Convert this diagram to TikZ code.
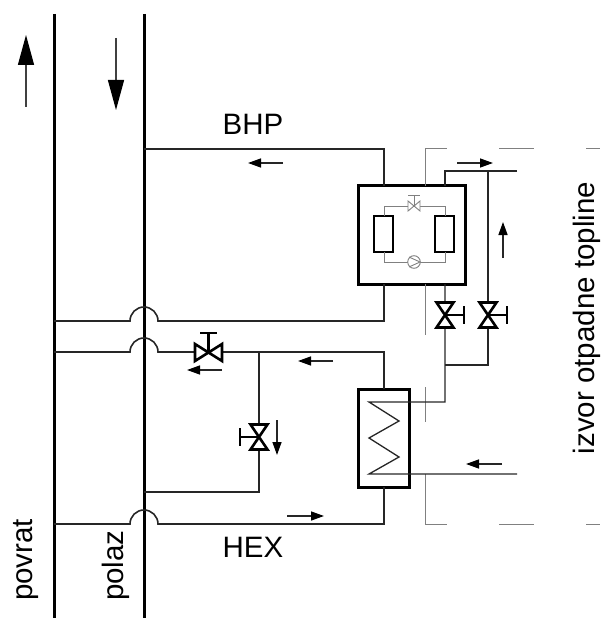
\documentclass[tikz,border=0pt]{standalone}
\usepackage{fontspec}
\setmainfont{Liberation Sans}
\usetikzlibrary{arrows.meta}
\tikzset{
  x=1pt,y=-1pt,
  mainpipe/.style={line width=3pt,black},
  pipe/.style={line width=1.6pt,black!85},
  thinpipe/.style={line width=1.3pt,black!85,line join=miter},
  greyline/.style={line width=1pt,black!50},
  fatbox/.style={line width=3pt,black},
  flow/.style={line width=1.4pt,black!85,-{Triangle[length=13pt,width=9pt,fill=black,color=black]}},
  bigflow/.style={line width=1.4pt,black!75,-{Triangle[length=30pt,width=16pt,fill=black,color=black]}},
  vlv/.style={line width=2.6pt,black,line join=miter},
  lbl/.style={font=\fontsize{29.5}{32}\selectfont,inner sep=0pt}
}
\newcommand{\vvalve}[3]{% x y stemdir(+1 right,-1 left)
  \draw[vlv] (#1-8.5,#2-12.5) -- (#1+8.5,#2-12.5) -- (#1-8.5,#2+12.5) -- (#1+8.5,#2+12.5) -- cycle;
  \draw[vlv] (#1,#2) -- (#1+#3*19,#2);
  \draw[vlv] (#1+#3*19,#2-9) -- (#1+#3*19,#2+9);
}
\begin{document}
\begin{tikzpicture}
\useasboundingbox (0,0) rectangle (600,620);
% mains
\coordinate (mlt) at (54,14); \coordinate (mlb) at (54,618);
\coordinate (mrt) at (144,14); \coordinate (mrb) at (144,618);
\draw[mainpipe] (mlt) -- (mlb);
\draw[mainpipe] (mrt) -- (mrb);
% big arrows
\coordinate (a1) at (26,107); \coordinate (a2) at (26,35);
\coordinate (b1) at (116,38); \coordinate (b2) at (116,110);
\draw[bigflow] (a1) -- (a2);
\draw[bigflow] (b1) -- (b2);
% BHP box
\node[draw,fatbox,minimum width=107pt,minimum height=98pt,inner sep=0pt] (bhp) at (411.5,235) {};
\node[draw,line width=2.6pt,minimum width=19pt,minimum height=36pt,inner sep=0pt] (evap) at (383.5,234) {};
\node[draw,line width=2.6pt,minimum width=19pt,minimum height=36pt,inner sep=0pt] (cond) at (444.5,234) {};
% HEX box
\node[draw,fatbox,minimum width=51pt,minimum height=98pt,inner sep=0pt] (hex) at (383.5,438) {};
% grey refrigerant circuit
\draw[greyline,line width=.9pt] (384,216) -- (384,206) -- (445,206) -- (445,216);
\draw[greyline,line width=.9pt] (384,252) -- (384,262) -- (445,262) -- (445,252);
\draw[greyline,line width=.9pt,fill=white] (408,201) -- (420,211) -- (420,201) -- (408,211) -- cycle;
\draw[greyline,line width=.9pt] (414,206) -- (414,195) (408,195) -- (420,195);
\draw[greyline,line width=.9pt,fill=white] (414,262) circle (6.3);
\draw[greyline,line width=.9pt] (409,257) -- (420,262) -- (409,267);
% grey dashed frame
\draw[greyline] (425,186) -- (425,149) -- (447,149);
\draw[greyline] (499,149) -- (534,149) (586,149) -- (600,149);
\draw[greyline] (425,284) -- (425,335);
\draw[greyline] (425,387) -- (425,422);
\draw[greyline] (425,474) -- (425,524) -- (447,524);
\draw[greyline] (499,524) -- (534,524) (586,524) -- (600,524);
% BHP pipes
\draw[pipe] (144,149) -- (384,149) -- (384,186);
\draw[pipe] (54,321) -- (130,321) arc[start angle=180,end angle=360,radius=14] -- (384,321) -- (384,284);
% HEX pipes
\draw[pipe] (54,352) -- (130,352) arc[start angle=180,end angle=360,radius=14] -- (384,352) -- (384,389);
\draw[pipe] (54,524) -- (130,524) arc[start angle=180,end angle=360,radius=14] -- (384,524) -- (384,487);
% bypass
\draw[pipe] (259,352) -- (259,492) -- (144,492);
% secondary pipes
\draw[pipe] (517,171) -- (445,171) -- (445,186);
\draw[pipe] (488,171) -- (488,365) -- (445,365);
\draw[thinpipe] (445,284) -- (445,402) -- (369,402) -- (399,421) -- (369,438) -- (399,457) -- (369,474) -- (517,474);
% valves
\fill[white] (436,302) rectangle (454,328);
\fill[white] (479,302) rectangle (497,328);
\fill[white] (250,424) rectangle (268,450);
\vvalve{445}{315}{1}
\vvalve{488}{315}{1}
\vvalve{259}{437}{-1}
\fill[white] (195,344) rectangle (222,362);
\draw[vlv] (195,344) -- (195,361) -- (222,344) -- (222,361) -- cycle;
\draw[vlv] (208.5,352.5) -- (208.5,333);
\draw[vlv] (200,333) -- (217,333);
% flow arrows
\draw[flow] (283,163) -- (248,163);
\draw[flow] (333,361) -- (298,361);
\draw[flow] (222,370) -- (187,370);
\draw[flow] (287,516) -- (324,516);
\draw[flow] (457,163) -- (493,163);
\draw[flow] (503,258) -- (503,222);
\draw[flow] (502,464) -- (466,464);
\draw[flow] (277,420) -- (277,455);
% labels
\node[lbl] (t1) at (253,124) {BHP};
\node[lbl] (t2) at (253,547) {HEX};
\node[lbl,rotate=90,anchor=base west] (t3) at (32.5,601) {povrat};
\node[lbl,rotate=90,anchor=base west] (t4) at (123,601) {polaz};
\node[lbl,rotate=90,anchor=base] (t5) at (594,318) {izvor otpadne topline};
\end{tikzpicture}
\end{document}
